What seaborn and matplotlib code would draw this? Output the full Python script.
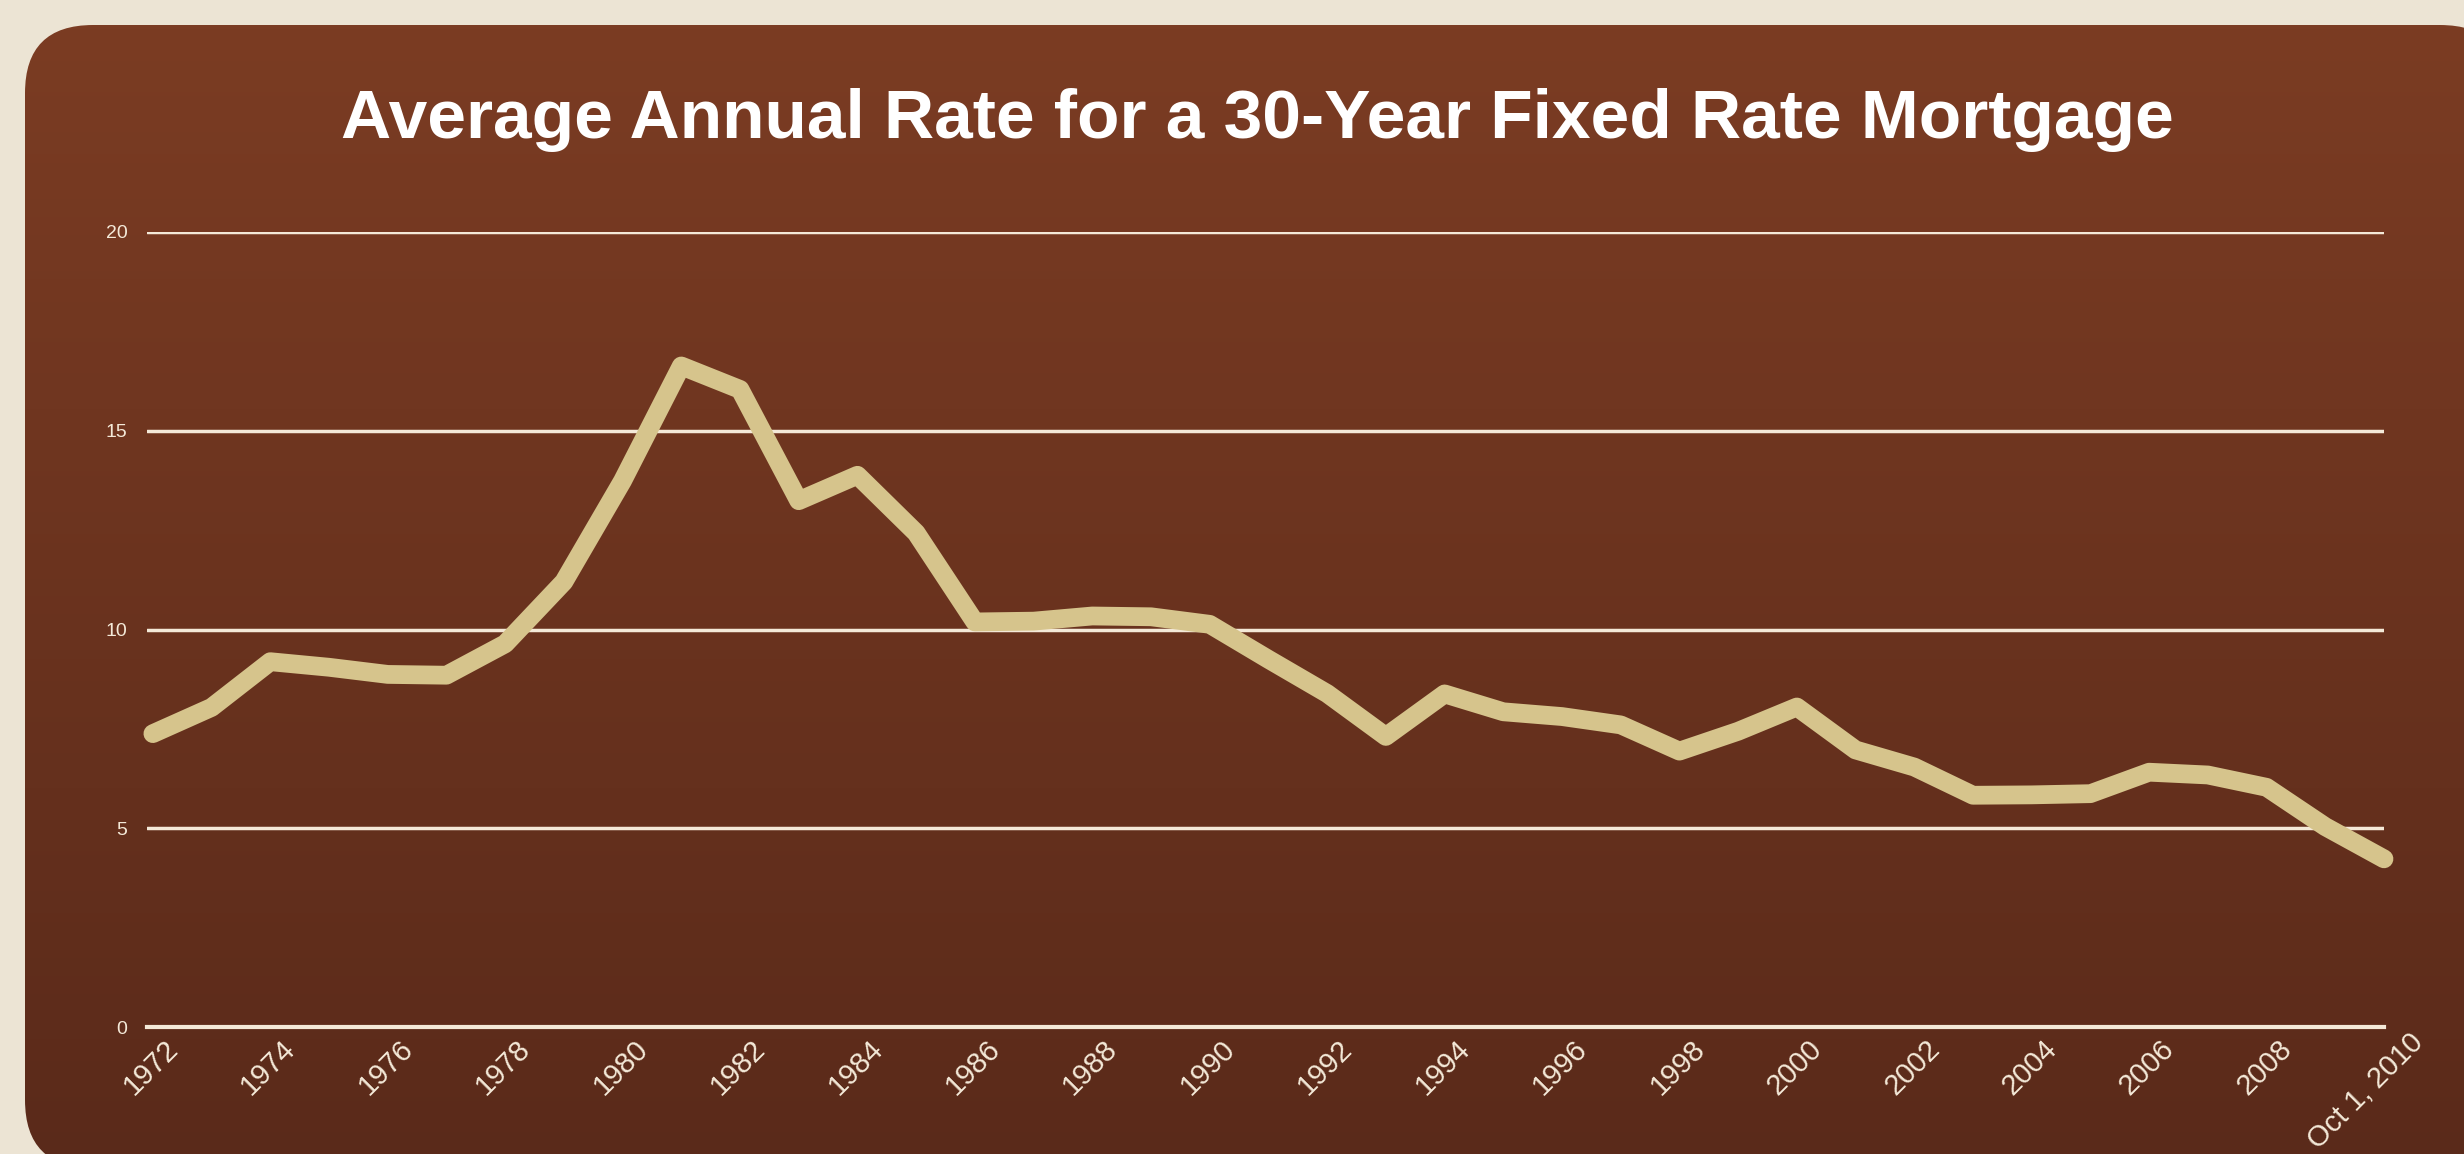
import numpy as np
import pandas as pd
import matplotlib
matplotlib.use("Agg")
import matplotlib.pyplot as plt
import seaborn as sns
from matplotlib.patches import FancyBboxPatch
from matplotlib.transforms import ScaledTranslation

# ---- data ----
years = list(range(1972, 2011))
rates = [7.38, 8.04, 9.19, 9.05, 8.87, 8.85, 9.64, 11.20, 13.74, 16.63,
         16.04, 13.24, 13.88, 12.43, 10.19, 10.21, 10.34, 10.32, 10.13, 9.25,
         8.39, 7.31, 8.38, 7.93, 7.81, 7.60, 6.94, 7.44, 8.05, 6.97,
         6.54, 5.83, 5.84, 5.87, 6.41, 6.34, 6.03, 5.04, 4.23]
xtick_labels = [str(y) if (y % 2 == 0 and y < 2010) else "" for y in years[:-1]] + ["Oct 1, 2010"]
ytick_values = [0, 5, 10, 15, 20]
title = "Average Annual Rate for a 30-Year Fixed Rate Mortgage"

df = pd.DataFrame({"year": years, "rate": rates})

sns.set_theme(style="white")
plt.rcParams["font.family"] = ["Liberation Sans", "DejaVu Sans"]

W, H = 2464, 1154
fig = plt.figure(figsize=(W / 100, H / 100), dpi=100)
fig.patch.set_facecolor("#ece4d4")

# background panel with gradient
bg = fig.add_axes([0, 0, 1, 1], zorder=0)
bg.set_xlim(0, W)
bg.set_ylim(0, H)
bg.axis("off")
px0, py0, px1, py1 = 25, -14, 2508, 1129
panel = FancyBboxPatch((px0, py0), px1 - px0, py1 - py0,
                       boxstyle="round,pad=0,rounding_size=68",
                       facecolor="none", edgecolor="none")
bg.add_patch(panel)
top_c = np.array([0x7b, 0x3c, 0x23]) / 255
bot_c = np.array([0x5a, 0x2a, 0x1a]) / 255
t = np.linspace(0, 1, 256)[:, None]
grad = top_c[None, None, :] * (1 - t[:, :, None]) + bot_c[None, None, :] * t[:, :, None]
grad = np.repeat(grad, 2, axis=1)
im = bg.imshow(grad, extent=[px0, px1, py0, py1], origin="upper", aspect="auto")
im.set_clip_path(panel)

# title
fig.text(1257 / W, 1 - 138 / H, title, ha="center", va="baseline",
         fontsize=50, fontweight="bold", color="white")

# main axes
ax_left, ax_right = 147, 2384
ax_top, ax_bot = 232, 1027
ax = fig.add_axes([ax_left / W, 1 - ax_bot / H, (ax_right - ax_left) / W, (ax_bot - ax_top) / H], zorder=2)
ax.set_facecolor("none")

cream = "#f4e9d8"
ax.set_ylim(0, 20)
ax.set_xlim(1971.9, 2010)
ax.set_yticks(ytick_values)
ax.yaxis.grid(True, color=cream, linewidth=2.5)
ax.xaxis.grid(False)
ax.set_axisbelow(True)

sns.lineplot(data=df, x="year", y="rate", ax=ax, color="#d6c48c",
             linewidth=13.5, clip_on=False, zorder=3)

for s in ["top", "right", "left"]:
    ax.spines[s].set_visible(False)
ax.spines["bottom"].set_color(cream)
ax.spines["bottom"].set_linewidth(3)
ax.spines["bottom"].set_bounds(1971.9, 2010)

ax.set_xticks(years)
ax.set_xticklabels(xtick_labels, rotation=45, ha="right", rotation_mode="anchor",
                   fontsize=21, color=cream)
ax.tick_params(axis="x", direction="inout", length=11, width=2, color=cream, pad=0)
ax.tick_params(axis="y", length=0, pad=14, labelsize=14, labelcolor=cream)
labels = ax.get_xticklabels()
for i, lab in enumerate(labels):
    dx, dy = 0.11, 0.0
    if i == len(labels) - 1:
        dx, dy = 0.25, 0.06
    lab.set_transform(lab.get_transform() + ScaledTranslation(dx, dy, fig.dpi_scale_trans))
ax.set_xlabel("")
ax.set_ylabel("")

fig.savefig("out.png", dpi=100, facecolor=fig.get_facecolor())
